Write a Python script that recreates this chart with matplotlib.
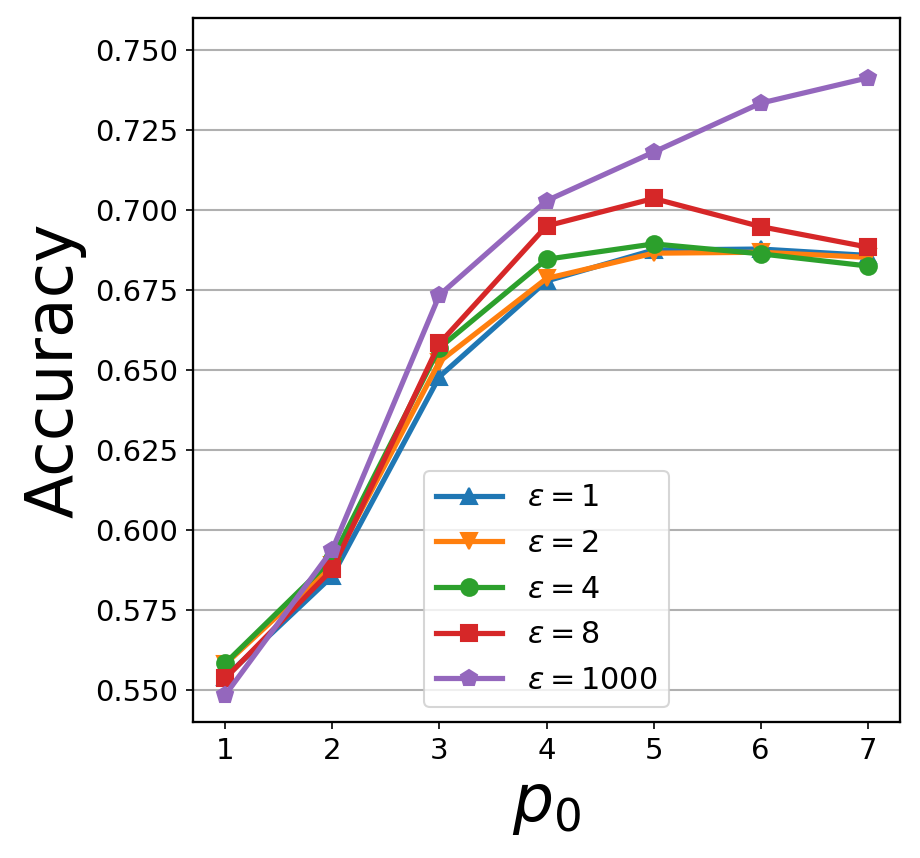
import numpy as np
import matplotlib
matplotlib.use("Agg")
import matplotlib.pyplot as plt

# p0 values on the x axis
p0 = [1, 2, 3, 4, 5, 6, 7]

# accuracy for each epsilon
acc_eps1 = [0.5540, 0.5856, 0.6479, 0.6778, 0.6875, 0.6878, 0.6858]
acc_eps2 = [0.5580, 0.5890, 0.6526, 0.6786, 0.6865, 0.6868, 0.6852]
acc_eps4 = [0.5583, 0.5910, 0.6569, 0.6846, 0.6894, 0.6863, 0.6825]
acc_eps8 = [0.5536, 0.5877, 0.6583, 0.6950, 0.7036, 0.6948, 0.6884]
acc_eps1000 = [0.5484, 0.5938, 0.6734, 0.7029, 0.7181, 0.7334, 0.7413]

labels = [r'$\epsilon=1$', r'$\epsilon=2$', r'$\epsilon=4$',
          r'$\epsilon=8$', r'$\epsilon=1000$']
markers = ['^', 'v', 'o', 's', 'p']
series = [acc_eps1, acc_eps2, acc_eps4, acc_eps8, acc_eps1000]

fig = plt.figure(figsize=(920 / 150, 858 / 150), dpi=150)
ax = fig.add_axes([193 / 920, 1 - 722 / 858, 707 / 920, 704 / 858])

for vals, m, lab in zip(series, markers, labels):
    ax.plot(p0, vals, marker=m, markersize=8, linewidth=2.5, label=lab)

ax.set_ylim(0.540, 0.760)
ax.set_xlim(0.7, 7.3)
ax.set_xticks(p0)
ax.set_yticks(np.arange(0.550, 0.7501, 0.025))
ax.yaxis.set_major_formatter(matplotlib.ticker.FormatStrFormatter('%.3f'))
ax.tick_params(labelsize=14)
ax.grid(axis='y', color='#b0b0b0', linewidth=1)
ax.set_axisbelow(True)
for sp in ax.spines.values():
    sp.set_linewidth(1.1)

ax.set_xlabel(r'$p_0$', fontsize=31)
ax.set_ylabel('Accuracy', fontsize=31)

ax.legend(loc='lower center', fontsize=14.5, handlelength=2.2, labelspacing=0.55)

fig.savefig('out.png', dpi=150)
